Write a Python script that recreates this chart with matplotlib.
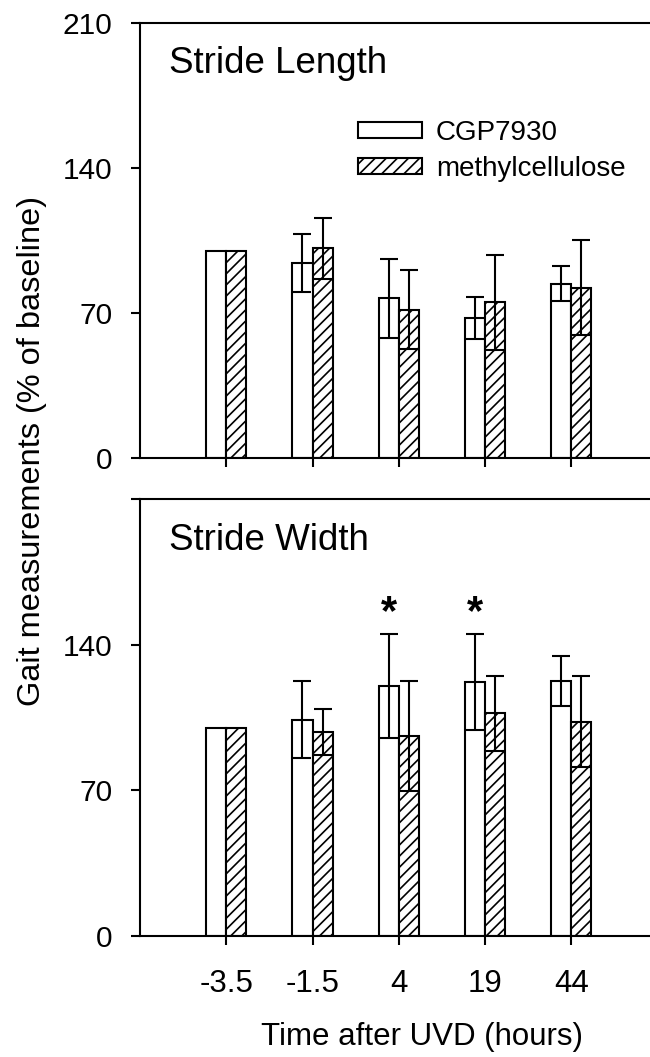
import numpy as np
import matplotlib
matplotlib.use("Agg")
import matplotlib.pyplot as plt
from matplotlib.patches import Patch

plt.rcParams['font.family'] = ['Liberation Sans', 'DejaVu Sans']
plt.rcParams['hatch.linewidth'] = 1.2

# data (% of baseline)
times = ['-3.5', '-1.5', '4', '19', '44']
series = ['CGP7930', 'methylcellulose']

length_cgp = [100, 94, 77, 67.5, 84]
length_cgp_err = [0, 14, 19, 10, 8.5]
length_mc = [100, 101, 71.5, 75, 82]
length_mc_err = [0, 14.5, 19, 23, 23]

width_cgp = [100, 104, 120, 122, 122.5]
width_cgp_err = [0, 18.5, 25, 23, 12]
width_mc = [100, 98, 96, 107, 103]
width_mc_err = [0, 11, 26.5, 18, 22]

signif = ['4', '19']   # * over CGP7930 bars in stride width

W, H = 650, 1057
fig = plt.figure(figsize=(W / 100, H / 100), dpi=100)

left = 140 / W
ax_w = 7 * 86.25 / W   # x range -1..6, runs off the right edge like the original
ax1 = fig.add_axes([left, 1 - 457.7 / H, ax_w, 435 / H])
ax2 = fig.add_axes([left, 1 - 936 / H, ax_w, 437 / H])

x = np.arange(len(times))
bw = 0.232
lw = 1.5


def draw_panel(ax, cgp, cgp_err, mc, mc_err, title):
    ax.bar(x - bw / 2, cgp, bw, color='white', edgecolor='black', linewidth=lw, zorder=2)
    ax.bar(x + bw / 2, mc, bw, color='white', edgecolor='black', linewidth=lw,
           hatch='///', zorder=2)
    for off, vals, errs in [(-bw / 2, cgp, cgp_err), (bw / 2, mc, mc_err)]:
        idx = [i for i, e in enumerate(errs) if e > 0]
        ax.errorbar(x[idx] + off, np.array(vals)[idx], yerr=np.array(errs)[idx],
                    fmt='none', ecolor='black', elinewidth=lw, capsize=6.5,
                    capthick=lw, zorder=3)
    ax.set_xlim(-1, 6)
    ax.set_ylim(0, 210)
    ax.set_yticks([0, 70, 140, 210])
    ax.set_xticks(x)
    ax.text(-0.66, 185.5, title, fontsize=26.5, ha='left', va='baseline')
    for s in ax.spines.values():
        s.set_linewidth(lw)
    ax.tick_params(axis='both', labelsize=21.5, width=lw, length=6.5, direction='out')
    ax.tick_params(axis='y', pad=13.5)
    ax.tick_params(axis='x', pad=17, labelsize=22.5)


draw_panel(ax1, length_cgp, length_cgp_err, length_mc, length_mc_err, 'Stride Length')
draw_panel(ax2, width_cgp, width_cgp_err, width_mc, width_mc_err, 'Stride Width')

ax1.set_xticklabels([])
ax2.set_xticklabels(times)
ax2.set_yticklabels(['0', '70', '140', ''])

for t in signif:
    i = times.index(t)
    ax2.text(x[i] - bw / 2, 165, '*', fontsize=30, fontweight='bold',
             ha='center', va='top')

handles = [Patch(facecolor='white', edgecolor='black', linewidth=lw),
           Patch(facecolor='white', edgecolor='black', linewidth=lw, hatch='///')]
fig.legend(handles, series, loc='upper left', bbox_to_anchor=(358 / W, 1 - 120 / H),
           frameon=False, fontsize=20, handlelength=2.3, handleheight=0.5,
           handletextpad=0.5, labelspacing=0.35, borderpad=0, borderaxespad=0)

fig.text(422 / W, 1 - 1037 / H, 'Time after UVD (hours)', fontsize=22.5,
         ha='center', va='center')
fig.text(32 / W, 1 - 451 / H, 'Gait measurements (% of baseline)', fontsize=23.4,
         rotation=90, ha='center', va='center')

fig.savefig('out.png', dpi=100)
